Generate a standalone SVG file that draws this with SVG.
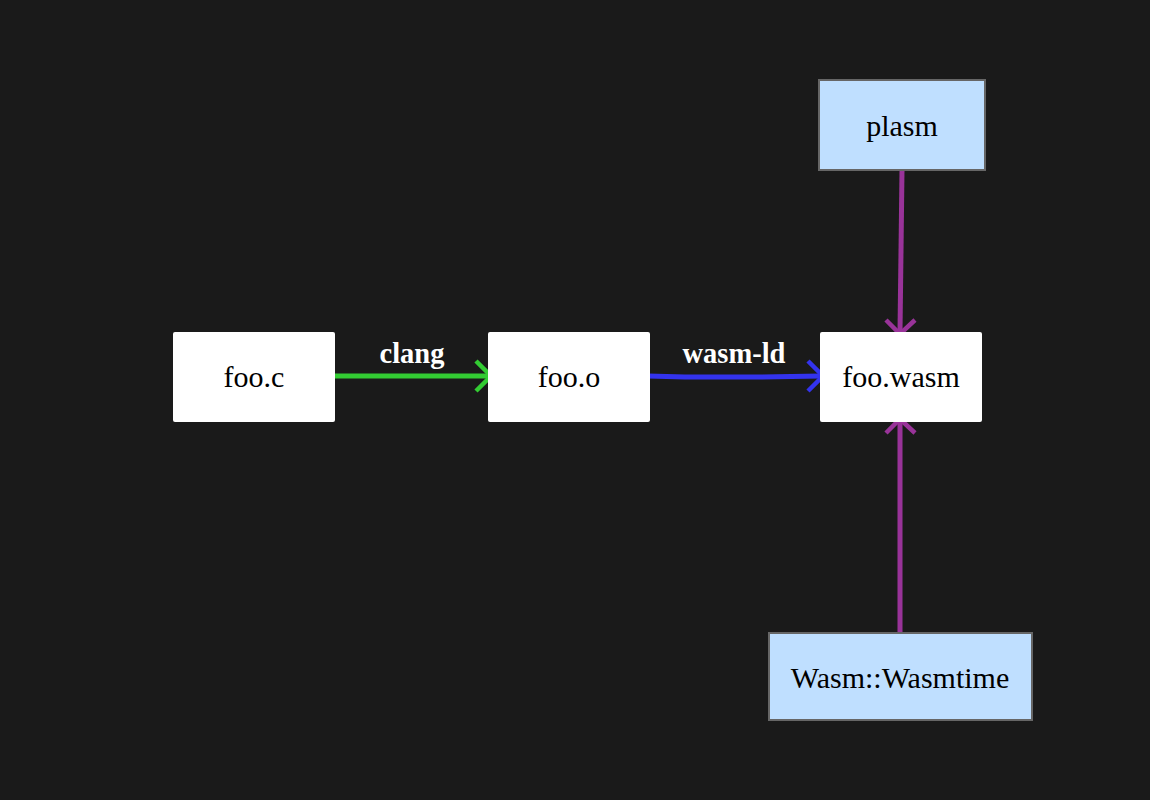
<svg xmlns="http://www.w3.org/2000/svg" width="1150" height="800" viewBox="0 0 1150 800">
<style>
.node{fill:#ffffff}
.ext{fill:#bfdfff;stroke:#666666;stroke-width:2}
.t{font-family:"Liberation Serif","Times New Roman",serif;font-size:30px;fill:#000000;text-anchor:middle}
.lbl{font-family:"Liberation Serif","Times New Roman",serif;font-size:28.5px;font-weight:bold;fill:#ffffff;text-anchor:middle}
.e{fill:none;stroke-width:5;stroke-linecap:butt}
.h{fill:none;stroke-width:4.5;stroke-linejoin:miter}
</style>
<rect width="1150" height="800" fill="#1a1a1a"/>
<g id="connectors">
<path class="e" stroke="#33cc33" d="M332 376 H489"/>
<path class="h" stroke="#33cc33" d="M476 361 L491 376 L476 391"/>
<path class="e" stroke="#3333ee" d="M648 376 L685 377 L760 377 L821 376"/>
<path class="h" stroke="#3333ee" d="M808 361 L823 376 L808 391"/>
<path class="e" stroke="#993399" d="M902 170 L900 332"/>
<path class="h" stroke="#993399" d="M886 320 L900 334 L915 320"/>
<path class="e" stroke="#993399" d="M900 633 V421"/>
<path class="h" stroke="#993399" d="M886 433 L900 419 L915 433"/>
<text class="lbl" x="412" y="363">clang</text>
<text class="lbl" x="734" y="363">wasm-ld</text>
</g>
<g id="foo_c">
<rect class="node" x="173" y="332" width="162" height="90" rx="2"/>
<text class="t" x="254" y="387">foo.c</text>
</g>
<g id="foo_o">
<rect class="node" x="488" y="332" width="162" height="90" rx="2"/>
<text class="t" x="569" y="387">foo.o</text>
</g>
<g id="foo_wasm">
<rect class="node" x="820" y="332" width="162" height="90" rx="2"/>
<text class="t" x="901" y="387">foo.wasm</text>
</g>
<g id="plasm">
<rect class="ext" x="819" y="80" width="166" height="90"/>
<text class="t" x="902" y="136">plasm</text>
</g>
<g id="wasmtime">
<rect class="ext" x="769" y="633" width="263" height="87"/>
<text class="t" x="900" y="688">Wasm::Wasmtime</text>
</g>
</svg>
